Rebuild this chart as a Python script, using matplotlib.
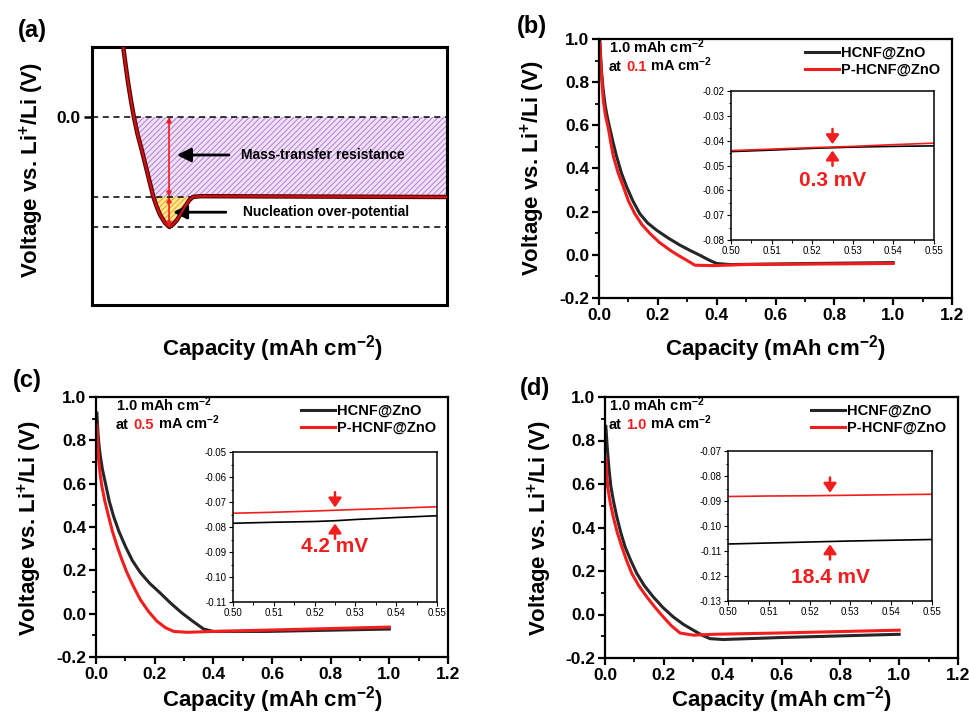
import matplotlib
matplotlib.use("Agg")
import matplotlib.pyplot as plt
from matplotlib.ticker import MultipleLocator, FormatStrFormatter
import numpy as np

plt.rcParams["font.family"] = "Liberation Sans"
plt.rcParams["font.weight"] = "bold"
plt.rcParams["axes.unicode_minus"] = False
plt.rcParams["mathtext.fontset"] = "custom"
plt.rcParams["mathtext.rm"] = "Liberation Sans:bold"
plt.rcParams["mathtext.bf"] = "Liberation Sans:bold"
plt.rcParams["mathtext.default"] = "bf"
plt.rcParams["hatch.linewidth"] = 0.7

W, H = 969, 718
BLACK = "#262626"
RED = "#f21d1d"

# (a) schematic plating profile: nucleation dip, then flat growth plateau
schem_cap = [0.088, 0.095, 0.102, 0.110, 0.118, 0.128, 0.140, 0.159, 0.173, 0.183, 0.192, 0.205,
             0.218, 0.229, 0.239, 0.250, 0.262, 0.274, 0.284, 0.304, 1.0]
schem_volt = [0.0875, 0.064, 0.042, 0.020, 0.0, -0.021, -0.041, -0.075, -0.100, -0.113, -0.1225,
              -0.132, -0.1375, -0.134, -0.129, -0.121, -0.112, -0.104, -0.100, -0.099, -0.100]
plateau_volt = -0.100
nucleation_volt = -0.1375

# (b) 0.1 mA cm-2
cap_b_hcnf = [0.003, 0.008, 0.013, 0.02, 0.028, 0.037, 0.048, 0.06, 0.076, 0.094, 0.115, 0.139,
              0.165, 0.196, 0.235, 0.275, 0.31, 0.343, 0.375, 0.40, 0.445, 0.728, 1.0]
volt_b_hcnf = [0.988, 0.86, 0.78, 0.70, 0.64, 0.585, 0.52, 0.455, 0.38, 0.315, 0.25, 0.19,
               0.148, 0.114, 0.078, 0.045, 0.02, -0.002, -0.025, -0.040, -0.045, -0.040, -0.036]
cap_b_phcnf = [0.003, 0.007, 0.011, 0.015, 0.022, 0.032, 0.04, 0.049, 0.065, 0.083, 0.10, 0.122,
               0.146, 0.173, 0.205, 0.241, 0.27, 0.298, 0.326, 0.388, 0.5, 1.0]
volt_b_phcnf = [0.98, 0.86, 0.78, 0.71, 0.645, 0.585, 0.52, 0.455, 0.38, 0.315, 0.25, 0.19,
                0.14, 0.099, 0.058, 0.022, -0.003, -0.025, -0.048, -0.050, -0.045, -0.040]

# (c) 0.5 mA cm-2
cap_c_hcnf = [0.003, 0.007, 0.01, 0.015, 0.022, 0.032, 0.045, 0.06, 0.078, 0.10, 0.124, 0.151,
              0.183, 0.219, 0.255, 0.293, 0.33, 0.367, 0.40, 0.583, 1.0]
volt_c_hcnf = [0.926, 0.83, 0.78, 0.725, 0.665, 0.603, 0.52, 0.449, 0.38, 0.311, 0.245, 0.19,
               0.14, 0.095, 0.048, 0.003, -0.035, -0.071, -0.082, -0.082, -0.071]
cap_c_phcnf = [0.003, 0.006, 0.009, 0.014, 0.02, 0.03, 0.043, 0.056, 0.072, 0.088, 0.106, 0.128,
               0.151, 0.178, 0.208, 0.237, 0.265, 0.31, 0.40, 1.0]
volt_c_phcnf = [0.872, 0.78, 0.711, 0.645, 0.588, 0.52, 0.449, 0.38, 0.311, 0.25, 0.188, 0.125,
                0.065, 0.012, -0.035, -0.065, -0.082, -0.086, -0.082, -0.062]

# (d) 1.0 mA cm-2
cap_d_hcnf = [0.003, 0.007, 0.011, 0.015, 0.02, 0.029, 0.04, 0.053, 0.068, 0.087, 0.108, 0.134,
              0.164, 0.197, 0.232, 0.266, 0.30, 0.33, 0.357, 0.402, 0.595, 1.0]
volt_d_hcnf = [0.865, 0.78, 0.711, 0.65, 0.588, 0.52, 0.45, 0.38, 0.312, 0.25, 0.189, 0.132,
               0.081, 0.032, -0.011, -0.045, -0.072, -0.095, -0.111, -0.115, -0.106, -0.091]
cap_d_phcnf = [0.003, 0.006, 0.009, 0.017, 0.028, 0.041, 0.057, 0.073, 0.091, 0.115, 0.142, 0.17,
               0.198, 0.226, 0.255, 0.30, 0.368, 0.595, 1.0]
volt_d_phcnf = [0.719, 0.65, 0.588, 0.52, 0.45, 0.38, 0.312, 0.25, 0.189, 0.132, 0.081, 0.033,
                -0.011, -0.052, -0.085, -0.095, -0.091, -0.085, -0.072]

# zoomed plateau region
inset_cap = [0.50, 0.51, 0.52, 0.525, 0.53, 0.54, 0.55]
inset_b_hcnf = [-0.0444, -0.0438, -0.0431, -0.04285, -0.0426, -0.0423, -0.0421]
inset_b_phcnf = [-0.0440, -0.0434, -0.0428, -0.04255, -0.0423, -0.0416, -0.0410]
inset_c_hcnf = [-0.0785, -0.0781, -0.0778, -0.0775, -0.0770, -0.0762, -0.0755]
inset_c_phcnf = [-0.0745, -0.0741, -0.0736, -0.0733, -0.0730, -0.0725, -0.0719]
inset_d_hcnf = [-0.1072, -0.1068, -0.1064, -0.1062, -0.1060, -0.1057, -0.1054]
inset_d_phcnf = [-0.0882, -0.0880, -0.0879, -0.0878, -0.0877, -0.0875, -0.0873]

rates = ["0.1", "0.5", "1.0"]


def px_axes(x0, y0, x1, y1):
    return fig.add_axes([x0 / W, 1 - y1 / H, (x1 - x0) / W, (y1 - y0) / H])


def style_main(ax):
    ax.set_xlim(0, 1.2)
    ax.set_ylim(-0.2, 1.0)
    ax.xaxis.set_major_locator(MultipleLocator(0.2))
    ax.xaxis.set_minor_locator(MultipleLocator(0.1))
    ax.yaxis.set_major_locator(MultipleLocator(0.2))
    ax.yaxis.set_minor_locator(MultipleLocator(0.1))
    ax.xaxis.set_major_formatter(FormatStrFormatter("%.1f"))
    ax.yaxis.set_major_formatter(FormatStrFormatter("%.1f"))
    ax.tick_params(which="both", direction="out", top=False, right=False, labelsize=12.5)
    ax.tick_params(which="major", length=5, width=1.6, pad=2)
    ax.tick_params(which="minor", length=3, width=1.3)
    for s in ax.spines.values():
        s.set_linewidth(1.6)


def style_inset(ax, ylo, yhi):
    ax.set_xlim(0.5, 0.55)
    ax.set_ylim(ylo, yhi)
    ax.xaxis.set_major_locator(MultipleLocator(0.01))
    ax.xaxis.set_minor_locator(MultipleLocator(0.005))
    ax.yaxis.set_major_locator(MultipleLocator(0.01))
    ax.yaxis.set_minor_locator(MultipleLocator(0.005))
    ax.xaxis.set_major_formatter(FormatStrFormatter("%.2f"))
    ax.yaxis.set_major_formatter(FormatStrFormatter("%.2f"))
    ax.tick_params(which="both", direction="out", top=False, right=False, labelsize=7)
    ax.tick_params(which="major", length=3, width=0.8, pad=1.5)
    ax.tick_params(which="minor", length=1.8, width=0.7)
    for lbl in ax.get_xticklabels() + ax.get_yticklabels():
        lbl.set_fontweight("normal")
    for s in ax.spines.values():
        s.set_linewidth(1.1)


fig = plt.figure(figsize=(W / 100, H / 100), dpi=100)

# ---- (a) schematic
ax = px_axes(92, 47, 447, 305)
ax.set_xlim(0, 1)
ax.set_ylim(-0.235, 0.0875)
ax.set_xticks([])
ax.set_yticks([0.0])
ax.yaxis.set_major_formatter(FormatStrFormatter("%.1f"))
ax.tick_params(axis="y", direction="out", length=6, width=1.8, labelsize=12.5, pad=2)
for s in ax.spines.values():
    s.set_linewidth(2.2)

sx = np.array(schem_cap)
sv = np.array(schem_volt)
ax.fill_between(sx, np.maximum(sv, plateau_volt), 0, where=sv <= 0, interpolate=True,
                facecolor="#f1e3f7", edgecolor="#b57ad8", hatch="//////", linewidth=0)
ax.fill_between(sx, sv, plateau_volt, where=sv <= plateau_volt, interpolate=True,
                facecolor="#ffe89a", edgecolor="#ff9f00", hatch="//////", linewidth=0)
for yv in (0.0, plateau_volt, nucleation_volt):
    ax.axhline(yv, color="black", lw=1.1, ls=(0, (4, 3)), zorder=2)
ax.plot(sx, sv, color="#5a0000", lw=3.2, solid_capstyle="round", zorder=3)
ax.plot(sx, sv, color="#c81414", lw=1.6, solid_capstyle="round", zorder=4)

ax.annotate("", xy=(0.217, 0.0), xytext=(0.217, plateau_volt),
            arrowprops=dict(arrowstyle="<|-|>", color=RED, lw=1.2, mutation_scale=7,
                            shrinkA=0, shrinkB=0), zorder=5)
ax.annotate("", xy=(0.217, plateau_volt), xytext=(0.217, nucleation_volt),
            arrowprops=dict(arrowstyle="<|-|>", color=RED, lw=1.2, mutation_scale=7,
                            shrinkA=0, shrinkB=0), zorder=5)
ax.annotate("", xy=(0.239, -0.0475), xytext=(0.386, -0.0475),
            arrowprops=dict(arrowstyle="-|>,head_length=0.6,head_width=0.3", color="black",
                            lw=2, mutation_scale=14, shrinkA=0, shrinkB=0))
ax.annotate("", xy=(0.228, -0.119), xytext=(0.377, -0.119),
            arrowprops=dict(arrowstyle="-|>,head_length=0.6,head_width=0.3", color="black",
                            lw=2, mutation_scale=14, shrinkA=0, shrinkB=0))
ax.text(0.42, -0.0475, "Mass-transfer resistance", fontsize=10, va="center", ha="left")
ax.text(0.425, -0.119, "Nucleation over-potential", fontsize=10, va="center", ha="left")

fig.text(32 / W, 1 - 170 / H, "Voltage vs. Li$^{+}$/Li (V)", rotation=90,
         ha="center", va="center", fontsize=16)
fig.text(272 / W, 1 - 349 / H, "Capacity (mAh cm$^{-2}$)", ha="center", va="center", fontsize=16)
fig.text(32 / W, 1 - 31 / H, "(a)", ha="center", va="center", fontsize=17)

# ---- (b)-(d) galvanostatic plating curves
panels = [
    dict(box=(599, 39, 952, 298), inset=(731, 91, 934, 240), ylim=(-0.08, -0.02),
         hcnf=(cap_b_hcnf, volt_b_hcnf), phcnf=(cap_b_phcnf, volt_b_phcnf),
         ins=(inset_b_hcnf, inset_b_phcnf), gap_y=-0.0562, note_x=0.028,
         letter="(b)", letter_xy=(532, 27), ylab=(533, 168), xlab=(775, 349)),
    dict(box=(96, 397, 448, 657), inset=(233, 452, 437, 602), ylim=(-0.11, -0.05),
         hcnf=(cap_c_hcnf, volt_c_hcnf), phcnf=(cap_c_phcnf, volt_c_phcnf),
         ins=(inset_c_hcnf, inset_c_phcnf), gap_y=-0.088, note_x=0.057,
         letter="(c)", letter_xy=(27, 380), ylab=(30, 528), xlab=(272, 700)),
    dict(box=(605, 397, 958, 658), inset=(728, 451, 932, 601), ylim=(-0.13, -0.07),
         hcnf=(cap_d_hcnf, volt_d_hcnf), phcnf=(cap_d_phcnf, volt_d_phcnf),
         ins=(inset_d_hcnf, inset_d_phcnf), gap_y=-0.1205, note_x=0.011,
         letter="(d)", letter_xy=(535, 389), ylab=(540, 528), xlab=(781, 700)),
]

for p, rate in zip(panels, rates):
    ax = px_axes(*p["box"])
    style_main(ax)
    ax.plot(*p["hcnf"], color=BLACK, lw=2.2, label="HCNF@ZnO")
    ax.plot(*p["phcnf"], color=RED, lw=2.2, label="P-HCNF@ZnO")
    ax.legend(loc="upper right", bbox_to_anchor=(0.975, 0.985), frameon=False, fontsize=10.5,
              handlelength=2.3, handletextpad=0.15, labelspacing=0.2, borderaxespad=0,
              borderpad=0.2)

    ax.text(p["note_x"], 0.935, "1.0 mAh cm$^{-2}$", transform=ax.transAxes,
            fontsize=10.5, va="bottom", ha="left")
    t1 = ax.text(p["note_x"], 0.865, "at", transform=ax.transAxes,
                 fontsize=10.5, va="bottom", ha="left")
    t2 = ax.annotate(rate, xy=(1, 0), xycoords=t1, xytext=(3, 0), textcoords="offset points",
                     fontsize=10.5, va="bottom", ha="left", color=RED)
    ax.annotate("mA cm$^{-2}$", xy=(1, 0), xycoords=t2, xytext=(3, 0),
                textcoords="offset points", fontsize=10.5, va="bottom", ha="left")

    fig.text(p["ylab"][0] / W, 1 - p["ylab"][1] / H, "Voltage vs. Li$^{+}$/Li (V)",
             rotation=90, ha="center", va="center", fontsize=16)
    fig.text(p["xlab"][0] / W, 1 - p["xlab"][1] / H, "Capacity (mAh cm$^{-2}$)",
             ha="center", va="center", fontsize=16)
    fig.text(p["letter_xy"][0] / W, 1 - p["letter_xy"][1] / H, p["letter"],
             ha="center", va="center", fontsize=17)

    ins = px_axes(*p["inset"])
    style_inset(ins, *p["ylim"])
    low, high = p["ins"]
    ins.plot(inset_cap, low, color="black", lw=1.2)
    ins.plot(inset_cap, high, color=RED, lw=1.2)
    i = inset_cap.index(0.525)
    ins.annotate("", xy=(0.525, high[i]), xytext=(0, 13), textcoords="offset points",
                 arrowprops=dict(arrowstyle="-|>,head_length=0.5,head_width=0.35", color=RED,
                                 lw=1.8, mutation_scale=11, shrinkA=0, shrinkB=2))
    ins.annotate("", xy=(0.525, low[i]), xytext=(0, -13), textcoords="offset points",
                 arrowprops=dict(arrowstyle="-|>,head_length=0.5,head_width=0.35", color=RED,
                                 lw=1.8, mutation_scale=11, shrinkA=0, shrinkB=2))
    gap_mv = (high[i] - low[i]) * 1000
    ins.text(0.525, p["gap_y"], f"{gap_mv:.1f} mV", color=RED, fontsize=15,
             ha="center", va="center")

fig.savefig("out.png", dpi=100)
